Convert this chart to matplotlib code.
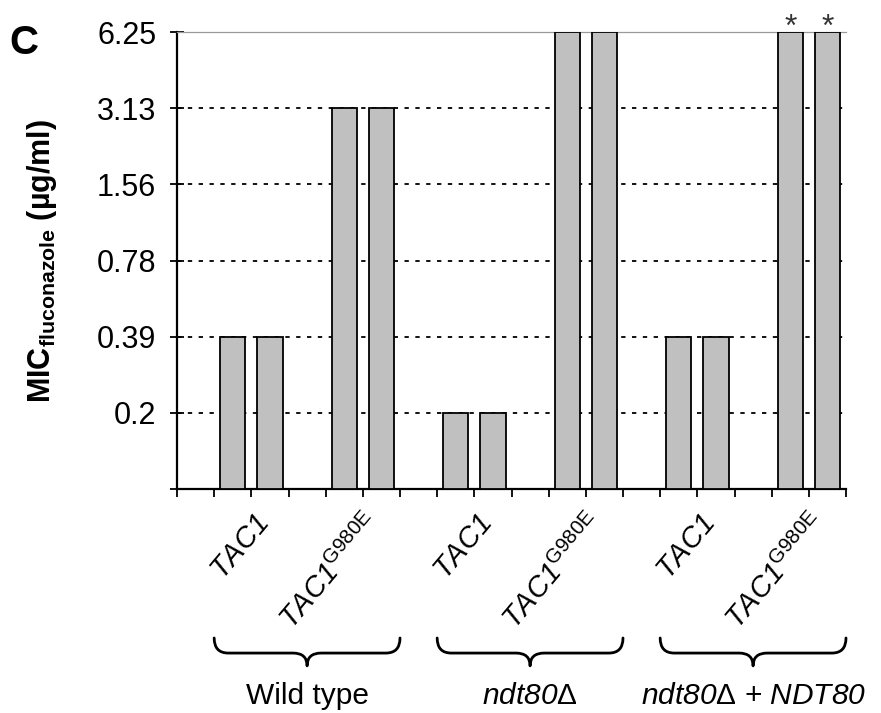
import matplotlib
matplotlib.use('Agg')
import matplotlib.pyplot as plt
import matplotlib.transforms as mtransforms
from matplotlib.path import Path
from matplotlib.patches import PathPatch
from matplotlib.ticker import NullLocator

plt.rcParams['font.family'] = ['Liberation Sans', 'DejaVu Sans']
plt.rcParams['mathtext.fontset'] = 'custom'
plt.rcParams['mathtext.rm'] = 'Liberation Sans'
plt.rcParams['mathtext.it'] = 'Liberation Sans:italic'
plt.rcParams['mathtext.sf'] = 'Liberation Sans:italic'
plt.rcParams['mathtext.bf'] = 'Liberation Sans:bold'

# ---------------- data ----------------
groups = ['Wild type', r'$\mathsf{ndt80}\Delta$',
          r'$\mathsf{ndt80}\Delta$ + $\mathsf{NDT80}$']
genotypes = [r'$\mathsf{TAC1}$', r'$\mathsf{TAC1}^{\mathrm{G980E}}$']
# MIC values (µg/ml), two replicates per genotype: TAC1, TAC1, TAC1-G980E, TAC1-G980E
mic_wild_type = [0.390625, 0.390625, 3.125, 3.125]
mic_ndt80 = [0.1953125, 0.1953125, 6.25, 6.25]
mic_ndt80_NDT80 = [0.390625, 0.390625, 6.25, 6.25]
star_wild_type = [False, False, False, False]
star_ndt80 = [False, False, False, False]
star_ndt80_NDT80 = [False, False, True, True]
ytick_values = [0.1953125, 0.390625, 0.78125, 1.5625, 3.125, 6.25]
ytick_labels = ['0.2', '0.39', '0.78', '1.56', '3.13', '6.25']
y_floor = 0.09765625

mic_groups = [mic_wild_type, mic_ndt80, mic_ndt80_NDT80]
star_groups = [star_wild_type, star_ndt80, star_ndt80_NDT80]

# ---------------- figure ----------------
fig = plt.figure(figsize=(8.81, 7.13), dpi=100)
ax = fig.add_axes([177 / 881, 1 - 489 / 713, (846 - 177) / 881, (489 - 32) / 713])

ax.set_yscale('log', base=2)
ax.set_ylim(y_floor, ytick_values[-1])
n_slots = 6 * len(groups)
ax.set_xlim(0, n_slots)

bar_color = '#c0c0c0'
for g, vals in enumerate(mic_groups):
    for i, v in enumerate(vals):
        j, r = divmod(i, 2)
        xpos = g * 6 + j * 3 + r + 1.5
        ax.bar(xpos, v - y_floor, bottom=y_floor, width=0.68, color=bar_color,
               edgecolor='black', linewidth=1.3, zorder=3)
        if star_groups[g][i]:
            ax.annotate('*', xy=(xpos, v), xytext=(0, -3), textcoords='offset points',
                        ha='center', va='baseline', fontsize=23, color='#333333',
                        annotation_clip=False)

# y axis
ax.set_yticks(ytick_values + [y_floor])
ax.set_yticklabels(ytick_labels + [''])
ax.yaxis.set_minor_locator(NullLocator())
ax.tick_params(axis='y', direction='inout', length=10, width=1.3, pad=10,
               labelsize=22)
ax.yaxis.grid(True, linestyle=(0, (2.4, 3.6)), color='black', linewidth=1.3)
ax.set_axisbelow(True)

# x axis
ax.set_xticks(range(n_slots + 1))
ax.set_xticklabels([''] * (n_slots + 1))
ax.tick_params(axis='x', direction='out', length=6, width=1.3)

for s in ['left', 'bottom']:
    ax.spines[s].set_linewidth(1.6)
    ax.spines[s].set_color('black')
ax.spines['right'].set_visible(False)
ax.spines['top'].set_color('#9a9a9a')
ax.spines['top'].set_linewidth(0.9)

trans = mtransforms.blended_transform_factory(ax.transData, ax.transAxes)

# genotype labels
for g in range(len(groups)):
    for j, lab in enumerate(genotypes):
        center = g * 6 + j * 3 + 2
        ax.text(center + 0.04, -0.045, lab, transform=trans, rotation=50,
                ha='right', va='top', rotation_mode='anchor', fontsize=21,
                clip_on=False)

# braces + group labels
y_top, y_mid, y_tip = -0.326, -0.359, -0.387
r = 0.38
for g, name in enumerate(groups):
    x0 = g * 6 + 1
    x1 = g * 6 + 6
    xc = (x0 + x1) / 2
    verts = [(x0, y_top), (x0, y_mid), (x0 + r, y_mid),
             (xc - r, y_mid), (xc, y_mid), (xc, y_tip),
             (xc, y_mid), (xc + r, y_mid),
             (x1 - r, y_mid), (x1, y_mid), (x1, y_top)]
    codes = [Path.MOVETO, Path.CURVE3, Path.CURVE3,
             Path.LINETO, Path.CURVE3, Path.CURVE3,
             Path.CURVE3, Path.CURVE3,
             Path.LINETO, Path.CURVE3, Path.CURVE3]
    patch = PathPatch(Path(verts, codes), transform=trans, fill=False,
                      edgecolor='black', linewidth=2.0, clip_on=False,
                      capstyle='round', joinstyle='round')
    ax.add_patch(patch)
    ax.text(xc, -0.452, name, transform=trans, ha='center', va='center',
            fontsize=21.5, clip_on=False)

# y label and panel letter
fig.text(42 / 881, 1 - 261 / 713, r'$\mathbf{MIC}_{\mathbf{fluconazole}}$ (µg/ml)',
         rotation=90, ha='center', va='center', fontsize=22, fontweight='bold')
fig.text(9 / 881, 1 - 24 / 713, 'C', ha='left', va='top', fontsize=29,
         fontweight='bold')

fig.savefig('out.png', dpi=100)
